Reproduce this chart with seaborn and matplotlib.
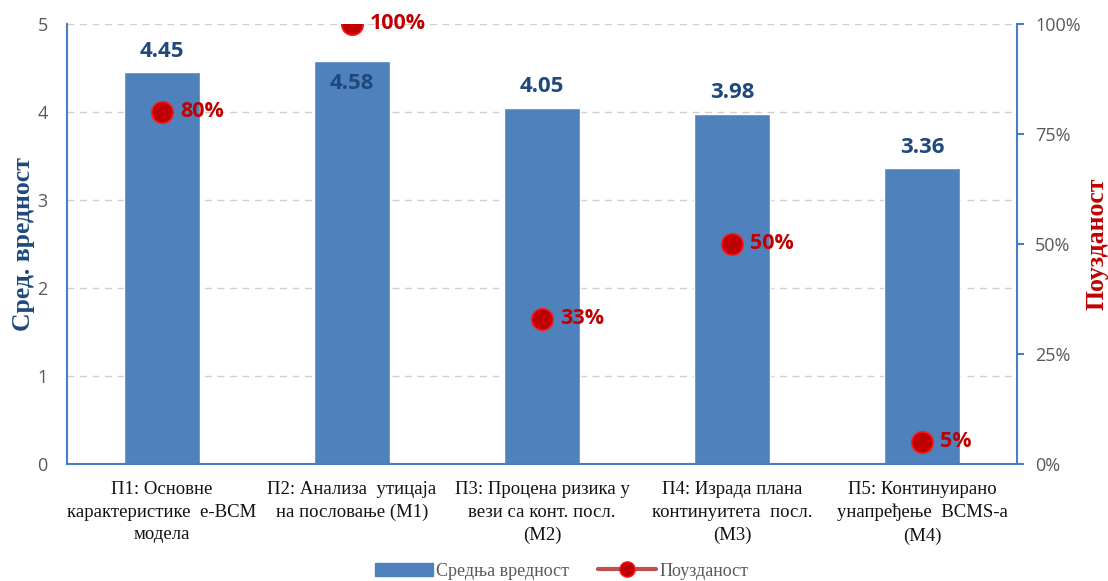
import matplotlib
matplotlib.use("Agg")
import matplotlib.pyplot as plt
from matplotlib.lines import Line2D
from matplotlib.patches import Patch
from matplotlib.ticker import FuncFormatter
import seaborn as sns
import pandas as pd

categories = [
    "П1: Основне\nкарактеристике  е-BCM\nмодела",
    "П2: Анализа  утицаја\nна пословање (М1)",
    "П3: Процена ризика у\nвези са конт. посл.\n(М2)",
    "П4: Израда плана\nконтинуитета  посл.\n(М3)",
    "П5: Континуирано\nунапређење  BCMS-а\n(М4)",
]
mean_values = [4.45, 4.58, 4.05, 3.98, 3.36]
reliability = [80, 100, 33, 50, 5]

bar_color = "#4F81BD"
dark_blue = "#1F497D"
red = "#C00000"
spine_color = "#4A7EC4"
gray = "#595959"

sns.set_theme(style="white")
plt.rcParams["font.family"] = ["Liberation Serif", "DejaVu Serif"]

df = pd.DataFrame({"cat": categories, "mean": mean_values, "rel": reliability})

fig = plt.figure(figsize=(11.08, 5.81), dpi=100)
ax = fig.add_axes([0.0605, 0.2014, 0.8575, 0.7573])

sns.barplot(data=df, x="cat", y="mean", color=bar_color, width=0.4,
            saturation=1, ax=ax, zorder=2)
ax.set_ylim(0, 5)
ax.set_xlim(-0.5, len(categories) - 0.5)
ax.set_yticks([0, 1, 2, 3, 4, 5])
ax.yaxis.grid(True, linestyle=(0, (5, 4)), color="#D0D0D0", linewidth=1, zorder=0)
ax.set_axisbelow(True)

for s in ["top", "right"]:
    ax.spines[s].set_visible(False)
for s in ["left", "bottom"]:
    ax.spines[s].set_color(spine_color)
    ax.spines[s].set_linewidth(1.5)

ax.tick_params(axis="y", length=0, pad=14, labelsize=13, labelcolor=gray)
ax.tick_params(axis="x", length=0, pad=12, labelsize=13.5, labelcolor="#111111")
for lbl in ax.get_yticklabels():
    lbl.set_family(["Open Sans", "DejaVu Sans"])
for lbl in ax.get_xticklabels():
    lbl.set_linespacing(1.45)
ax.set_xlabel("")
ax.set_ylabel("Сред. вредност", fontsize=18.5, fontweight="bold", color=dark_blue)
ax.yaxis.set_label_coords(-0.034, 0.5)

# value labels: the tallest bar gets its label inside the top
for i, v in enumerate(mean_values):
    if v == max(mean_values):
        ax.text(i, v - 0.14, f"{v:.2f}", ha="center", va="top", fontsize=16,
                fontweight="bold", color=dark_blue, family=["Open Sans", "DejaVu Sans"])
    else:
        ax.text(i, v + 0.12, f"{v:.2f}", ha="center", va="bottom", fontsize=16,
                fontweight="bold", color=dark_blue, family=["Open Sans", "DejaVu Sans"])

ax2 = ax.twinx()
ax2.set_ylim(0, 100)
ax2.set_yticks([0, 25, 50, 75, 100])
ax2.yaxis.set_major_formatter(FuncFormatter(lambda v, p: f"{v:.0f}%"))
sns.scatterplot(x=list(range(len(categories))), y=reliability, ax=ax2, color=red,
                s=240, edgecolor="#FF1A1A", linewidth=1.2, zorder=5, legend=False)
for s in ["top", "left", "bottom"]:
    ax2.spines[s].set_visible(False)
ax2.spines["right"].set_color(spine_color)
ax2.spines["right"].set_linewidth(1.5)
ax2.tick_params(axis="y", direction="out", length=5, width=1.5, color=spine_color,
                labelsize=13, labelcolor=gray, pad=8)
for lbl in ax2.get_yticklabels():
    lbl.set_family(["Open Sans", "DejaVu Sans"])
ax2.set_ylabel("Поузданост", fontsize=18.5, fontweight="bold", color=red, rotation=90)
ax2.yaxis.set_label_coords(1.072, 0.5)
ax2.grid(False)

for i, r in enumerate(reliability):
    ax2.annotate(f"{r}%", (i, r), xytext=(13, 0), textcoords="offset points",
                 ha="left", va="center", fontsize=15.5, fontweight="bold", color=red,
                 family=["Open Sans", "DejaVu Sans"])

handles = [
    Patch(facecolor=bar_color, edgecolor=bar_color),
    Line2D([0], [0], color="#C0504D", linewidth=3, marker="o", markersize=11,
           markerfacecolor=red, markeredgecolor="#FF1A1A"),
]
fig.legend(handles, ["Средња вредност", "Поузданост"], loc="center",
           bbox_to_anchor=(0.507, 0.017), ncol=2, frameon=False, fontsize=13,
           labelcolor=gray, handlelength=3.2, columnspacing=1.6, handletextpad=0.2,
           handleheight=0.8)

fig.savefig("out.png", dpi=100)
